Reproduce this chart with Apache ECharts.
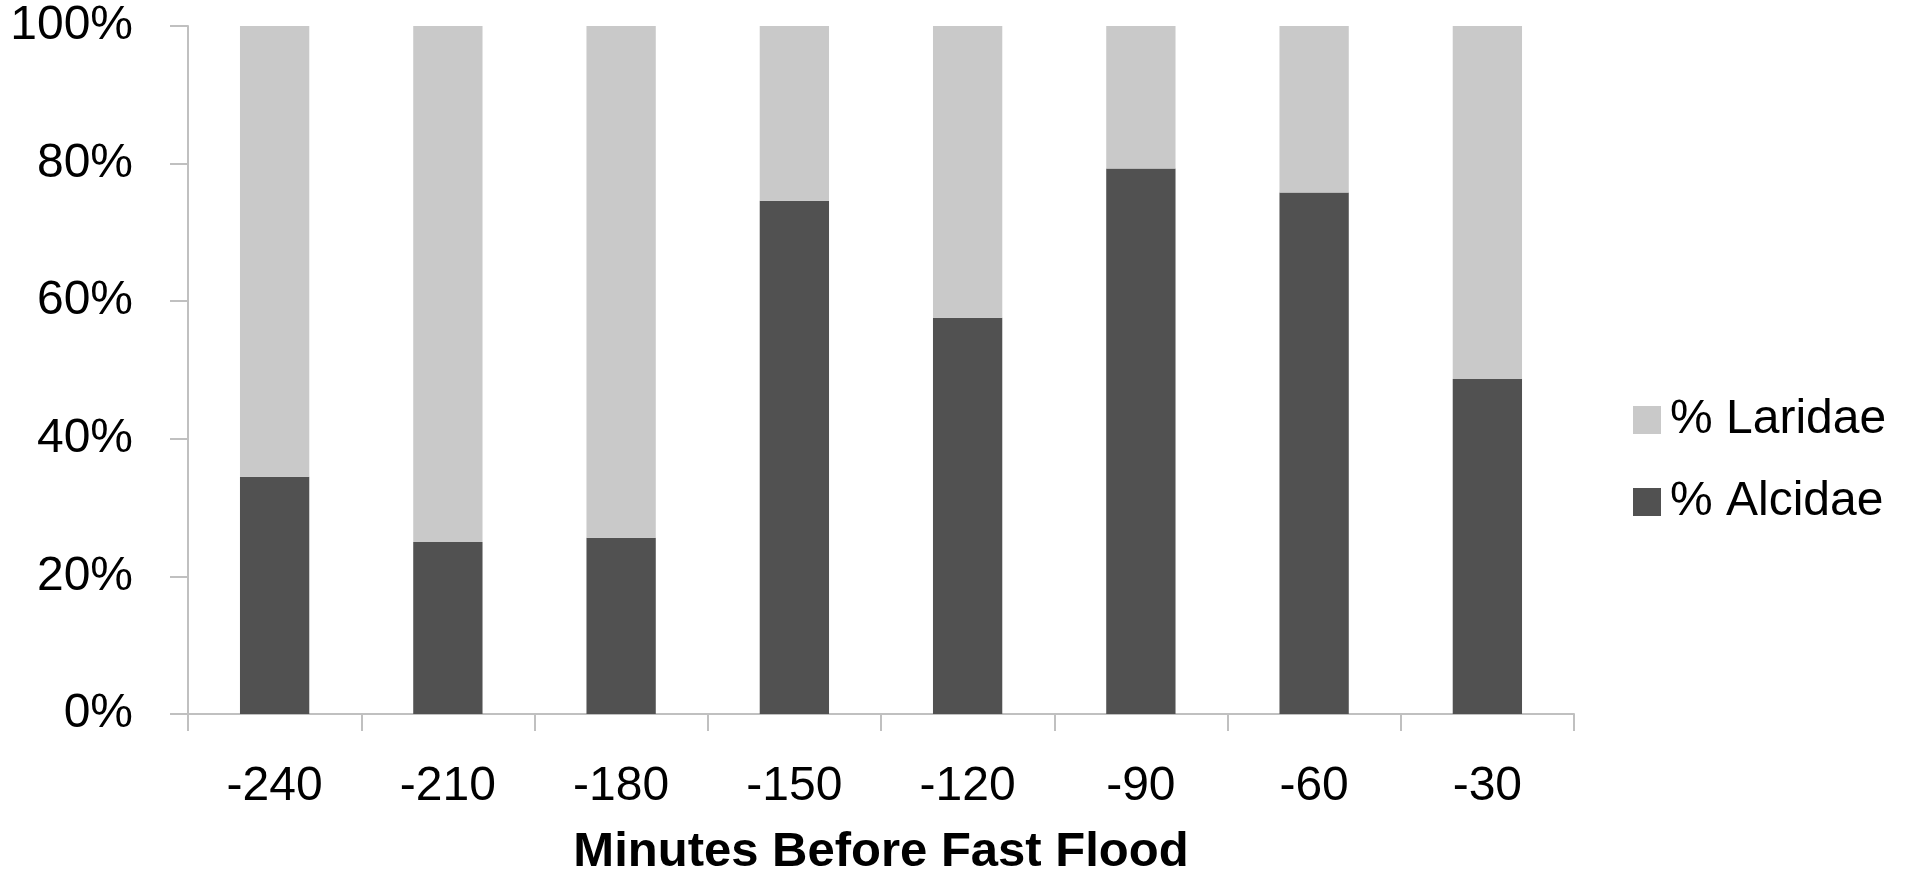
<!DOCTYPE html>
<html>
<head>
<meta charset="utf-8">
<script src="https://cdn.jsdelivr.net/npm/echarts@6/dist/echarts.min.js"></script>
<style>
html,body{margin:0;padding:0;background:#fff;}
#chart{width:1905px;height:882px;}
</style>
</head>
<body>
<div id="chart"></div>
<script>
const categories = ['-240', '-210', '-180', '-150', '-120', '-90', '-60', '-30'];
const alcidae = [34.5, 25.0, 25.6, 74.6, 57.6, 79.3, 75.8, 48.7];
const laridae = [65.5, 75.0, 74.4, 25.4, 42.4, 20.7, 24.2, 51.3];
const yTicks = [0, 20, 40, 60, 80, 100];

const FONT = '"Liberation Sans", Arial, sans-serif';
const chart = echarts.init(document.getElementById('chart'));
chart.setOption({
  animation: false,
  backgroundColor: '#ffffff',
  textStyle: { fontFamily: FONT },
  grid: { left: 188, right: 331, top: 26, bottom: 163, containLabel: false },
  legend: {
    orient: 'vertical',
    left: 1628,
    top: 391,
    itemWidth: 28,
    itemHeight: 28,
    itemGap: 34,
    icon: 'rect',
    data: ['% Laridae', '% Alcidae'],
    textStyle: { fontSize: 48, color: '#000', fontFamily: FONT, lineHeight: 48, padding: [0, 0, 0, 4] }
  },
  xAxis: {
    type: 'category',
    data: categories,
    axisLine: { lineStyle: { color: '#c0c0c0', width: 2 } },
    axisTick: { show: true, length: 17, lineStyle: { color: '#c0c0c0', width: 2 } },
    axisLabel: { fontSize: 48, color: '#000', margin: 49, fontFamily: FONT },
    name: 'Minutes Before Fast Flood',
    nameLocation: 'middle',
    nameGap: 114,
    nameTextStyle: { fontSize: 49, fontWeight: 'bold', color: '#000', fontFamily: FONT }
  },
  yAxis: {
    type: 'value',
    min: yTicks[0],
    max: yTicks[yTicks.length - 1],
    interval: 20,
    splitLine: { show: false },
    axisLine: { show: true, lineStyle: { color: '#c0c0c0', width: 2 } },
    axisTick: { show: true, length: 18, lineStyle: { color: '#c0c0c0', width: 2 } },
    axisLabel: { fontSize: 48, color: '#000', margin: 55, fontFamily: FONT, formatter: v => v + '%' }
  },
  series: [
    {
      name: '% Alcidae',
      type: 'bar',
      stack: 'total',
      data: alcidae,
      barWidth: '40%',
      itemStyle: { color: '#515151' }
    },
    {
      name: '% Laridae',
      type: 'bar',
      stack: 'total',
      data: laridae,
      barWidth: '40%',
      itemStyle: { color: '#c9c9c9' }
    }
  ]
});
</script>
</body>
</html>
